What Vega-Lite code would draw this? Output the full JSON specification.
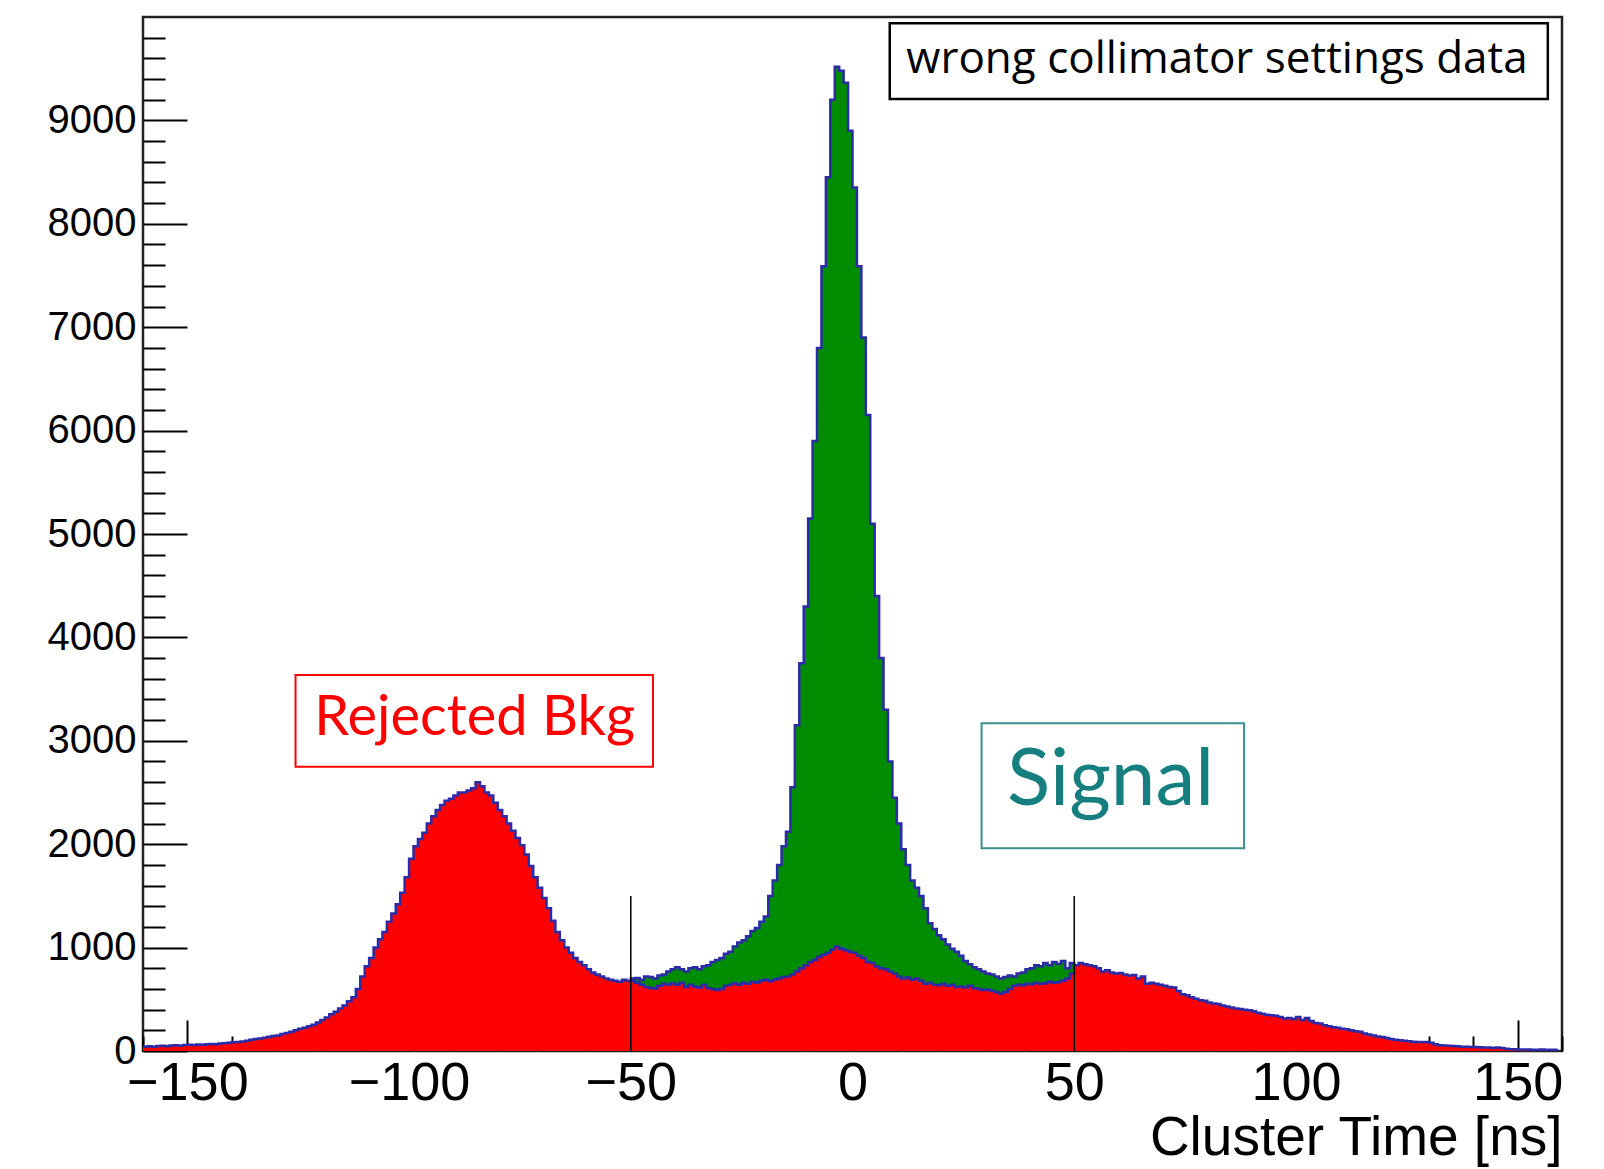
{
"$schema": "https://vega.github.io/schema/vega-lite/v6.json",
"width": 1419, "height": 1034,
"autosize": {"type": "none"},
"padding": {"left": 143, "top": 17, "right": 42, "bottom": 118},
"background": "white",
"config": {"view": {"stroke": "#222", "strokeWidth": 2.5}},
"datasets": {
"hist": [
{"t":-160,"total":40,"bkg":40},{"t":-159,"total":45,"bkg":45},{"t":-158,"total":42,"bkg":42},{"t":-157,"total":48,"bkg":48},{"t":-156,"total":50,"bkg":50},{"t":-155,"total":47,"bkg":47},{"t":-154,"total":52,"bkg":52},{"t":-153,"total":55,"bkg":55},{"t":-152,"total":50,"bkg":50},{"t":-151,"total":58,"bkg":58},
{"t":-150,"total":60,"bkg":60},{"t":-149,"total":57,"bkg":57},{"t":-148,"total":62,"bkg":62},{"t":-147,"total":60,"bkg":60},{"t":-146,"total":65,"bkg":65},{"t":-145,"total":68,"bkg":68},{"t":-144,"total":66,"bkg":66},{"t":-143,"total":72,"bkg":72},{"t":-142,"total":75,"bkg":75},{"t":-141,"total":80,"bkg":80},
{"t":-140,"total":84,"bkg":84},{"t":-139,"total":88,"bkg":88},{"t":-138,"total":92,"bkg":92},{"t":-137,"total":100,"bkg":100},{"t":-136,"total":108,"bkg":108},{"t":-135,"total":115,"bkg":115},{"t":-134,"total":122,"bkg":122},{"t":-133,"total":128,"bkg":128},{"t":-132,"total":138,"bkg":138},{"t":-131,"total":145,"bkg":145},
{"t":-130,"total":150,"bkg":150},{"t":-129,"total":165,"bkg":165},{"t":-128,"total":175,"bkg":175},{"t":-127,"total":185,"bkg":185},{"t":-126,"total":200,"bkg":200},{"t":-125,"total":215,"bkg":215},{"t":-124,"total":225,"bkg":225},{"t":-123,"total":240,"bkg":240},{"t":-122,"total":255,"bkg":255},{"t":-121,"total":275,"bkg":275},
{"t":-120,"total":300,"bkg":300},{"t":-119,"total":325,"bkg":325},{"t":-118,"total":355,"bkg":355},{"t":-117,"total":380,"bkg":380},{"t":-116,"total":410,"bkg":410},{"t":-115,"total":440,"bkg":440},{"t":-114,"total":480,"bkg":480},{"t":-113,"total":520,"bkg":520},{"t":-112,"total":600,"bkg":600},{"t":-111,"total":720,"bkg":720},
{"t":-110,"total":820,"bkg":820},{"t":-109,"total":900,"bkg":900},{"t":-108,"total":1000,"bkg":1000},{"t":-107,"total":1080,"bkg":1080},{"t":-106,"total":1150,"bkg":1150},{"t":-105,"total":1250,"bkg":1250},{"t":-104,"total":1330,"bkg":1330},{"t":-103,"total":1420,"bkg":1420},{"t":-102,"total":1530,"bkg":1530},{"t":-101,"total":1680,"bkg":1680},
{"t":-100,"total":1860,"bkg":1860},{"t":-99,"total":1980,"bkg":1980},{"t":-98,"total":2050,"bkg":2050},{"t":-97,"total":2110,"bkg":2110},{"t":-96,"total":2200,"bkg":2200},{"t":-95,"total":2270,"bkg":2270},{"t":-94,"total":2330,"bkg":2330},{"t":-93,"total":2380,"bkg":2380},{"t":-92,"total":2420,"bkg":2420},{"t":-91,"total":2440,"bkg":2440},
{"t":-90,"total":2470,"bkg":2470},{"t":-89,"total":2500,"bkg":2500},{"t":-88,"total":2500,"bkg":2500},{"t":-87,"total":2520,"bkg":2520},{"t":-86,"total":2540,"bkg":2540},{"t":-85,"total":2600,"bkg":2600},{"t":-84,"total":2560,"bkg":2560},{"t":-83,"total":2500,"bkg":2500},{"t":-82,"total":2470,"bkg":2470},{"t":-81,"total":2400,"bkg":2400},
{"t":-80,"total":2330,"bkg":2330},{"t":-79,"total":2270,"bkg":2270},{"t":-78,"total":2200,"bkg":2200},{"t":-77,"total":2130,"bkg":2130},{"t":-76,"total":2060,"bkg":2060},{"t":-75,"total":1990,"bkg":1990},{"t":-74,"total":1900,"bkg":1900},{"t":-73,"total":1790,"bkg":1790},{"t":-72,"total":1680,"bkg":1680},{"t":-71,"total":1580,"bkg":1580},
{"t":-70,"total":1480,"bkg":1480},{"t":-69,"total":1380,"bkg":1380},{"t":-68,"total":1260,"bkg":1260},{"t":-67,"total":1150,"bkg":1150},{"t":-66,"total":1070,"bkg":1070},{"t":-65,"total":1000,"bkg":1000},{"t":-64,"total":950,"bkg":950},{"t":-63,"total":900,"bkg":900},{"t":-62,"total":860,"bkg":860},{"t":-61,"total":830,"bkg":830},
{"t":-60,"total":790,"bkg":790},{"t":-59,"total":760,"bkg":760},{"t":-58,"total":740,"bkg":740},{"t":-57,"total":720,"bkg":720},{"t":-56,"total":700,"bkg":700},{"t":-55,"total":690,"bkg":690},{"t":-54,"total":680,"bkg":680},{"t":-53,"total":670,"bkg":670},{"t":-52,"total":690,"bkg":690},{"t":-51,"total":680,"bkg":680},
{"t":-50,"total":700,"bkg":680},{"t":-49,"total":705,"bkg":660},{"t":-48,"total":690,"bkg":640},{"t":-47,"total":720,"bkg":620},{"t":-46,"total":715,"bkg":610},{"t":-45,"total":700,"bkg":605},{"t":-44,"total":730,"bkg":630},{"t":-43,"total":740,"bkg":650},{"t":-42,"total":770,"bkg":640},{"t":-41,"total":790,"bkg":655},
{"t":-40,"total":810,"bkg":640},{"t":-39,"total":790,"bkg":660},{"t":-38,"total":770,"bkg":620},{"t":-37,"total":800,"bkg":640},{"t":-36,"total":810,"bkg":625},{"t":-35,"total":790,"bkg":615},{"t":-34,"total":820,"bkg":640},{"t":-33,"total":830,"bkg":610},{"t":-32,"total":860,"bkg":600},{"t":-31,"total":880,"bkg":590},
{"t":-30,"total":900,"bkg":600},{"t":-29,"total":940,"bkg":630},{"t":-28,"total":960,"bkg":640},{"t":-27,"total":1010,"bkg":655},{"t":-26,"total":1050,"bkg":640},{"t":-25,"total":1070,"bkg":660},{"t":-24,"total":1110,"bkg":650},{"t":-23,"total":1160,"bkg":670},{"t":-22,"total":1190,"bkg":660},{"t":-21,"total":1250,"bkg":680},
{"t":-20,"total":1300,"bkg":690},{"t":-19,"total":1500,"bkg":675},{"t":-18,"total":1650,"bkg":690},{"t":-17,"total":1800,"bkg":700},{"t":-16,"total":1980,"bkg":715},{"t":-15,"total":2120,"bkg":720},{"t":-14,"total":2550,"bkg":740},{"t":-13,"total":3150,"bkg":770},{"t":-12,"total":3750,"bkg":800},{"t":-11,"total":4300,"bkg":830},
{"t":-10,"total":5150,"bkg":860},{"t":-9,"total":5900,"bkg":880},{"t":-8,"total":6800,"bkg":910},{"t":-7,"total":7590,"bkg":930},{"t":-6,"total":8450,"bkg":950},{"t":-5,"total":9200,"bkg":980},{"t":-4,"total":9520,"bkg":1010},{"t":-3,"total":9480,"bkg":990},{"t":-2,"total":9365,"bkg":975},{"t":-1,"total":8900,"bkg":960},
{"t":0,"total":8350,"bkg":950},{"t":1,"total":7590,"bkg":920},{"t":2,"total":6900,"bkg":900},{"t":3,"total":6150,"bkg":860},{"t":4,"total":5100,"bkg":850},{"t":5,"total":4400,"bkg":820},{"t":6,"total":3800,"bkg":800},{"t":7,"total":3300,"bkg":790},{"t":8,"total":2800,"bkg":770},{"t":9,"total":2450,"bkg":750},
{"t":10,"total":2200,"bkg":720},{"t":11,"total":1950,"bkg":700},{"t":12,"total":1800,"bkg":710},{"t":13,"total":1650,"bkg":690},{"t":14,"total":1580,"bkg":700},{"t":15,"total":1500,"bkg":680},{"t":16,"total":1380,"bkg":650},{"t":17,"total":1235,"bkg":660},{"t":18,"total":1180,"bkg":640},{"t":19,"total":1120,"bkg":635},
{"t":20,"total":1080,"bkg":650},{"t":21,"total":1030,"bkg":630},{"t":22,"total":990,"bkg":640},{"t":23,"total":960,"bkg":620},{"t":24,"total":920,"bkg":625},{"t":25,"total":870,"bkg":615},{"t":26,"total":840,"bkg":630},{"t":27,"total":810,"bkg":610},{"t":28,"total":790,"bkg":600},{"t":29,"total":770,"bkg":590},
{"t":30,"total":750,"bkg":595},{"t":31,"total":740,"bkg":580},{"t":32,"total":720,"bkg":570},{"t":33,"total":700,"bkg":555},{"t":34,"total":715,"bkg":570},{"t":35,"total":730,"bkg":600},{"t":36,"total":720,"bkg":630},{"t":37,"total":750,"bkg":640},{"t":38,"total":760,"bkg":635},{"t":39,"total":790,"bkg":650},
{"t":40,"total":800,"bkg":645},{"t":41,"total":830,"bkg":660},{"t":42,"total":820,"bkg":650},{"t":43,"total":850,"bkg":655},{"t":44,"total":830,"bkg":670},{"t":45,"total":860,"bkg":660},{"t":46,"total":845,"bkg":665},{"t":47,"total":870,"bkg":680},{"t":48,"total":800,"bkg":700},{"t":49,"total":850,"bkg":750},
{"t":50,"total":830,"bkg":830},{"t":51,"total":850,"bkg":850},{"t":52,"total":840,"bkg":840},{"t":53,"total":830,"bkg":830},{"t":54,"total":820,"bkg":820},{"t":55,"total":800,"bkg":800},{"t":56,"total":770,"bkg":770},{"t":57,"total":780,"bkg":780},{"t":58,"total":760,"bkg":760},{"t":59,"total":750,"bkg":750},
{"t":60,"total":755,"bkg":755},{"t":61,"total":740,"bkg":740},{"t":62,"total":730,"bkg":730},{"t":63,"total":735,"bkg":735},{"t":64,"total":700,"bkg":700},{"t":65,"total":720,"bkg":720},{"t":66,"total":650,"bkg":650},{"t":67,"total":660,"bkg":660},{"t":68,"total":650,"bkg":650},{"t":69,"total":640,"bkg":640},
{"t":70,"total":630,"bkg":630},{"t":71,"total":620,"bkg":620},{"t":72,"total":615,"bkg":615},{"t":73,"total":580,"bkg":580},{"t":74,"total":550,"bkg":550},{"t":75,"total":540,"bkg":540},{"t":76,"total":520,"bkg":520},{"t":77,"total":505,"bkg":505},{"t":78,"total":490,"bkg":490},{"t":79,"total":485,"bkg":485},
{"t":80,"total":470,"bkg":470},{"t":81,"total":460,"bkg":460},{"t":82,"total":455,"bkg":455},{"t":83,"total":440,"bkg":440},{"t":84,"total":430,"bkg":430},{"t":85,"total":420,"bkg":420},{"t":86,"total":410,"bkg":410},{"t":87,"total":405,"bkg":405},{"t":88,"total":400,"bkg":400},{"t":89,"total":395,"bkg":395},
{"t":90,"total":385,"bkg":385},{"t":91,"total":370,"bkg":370},{"t":92,"total":360,"bkg":360},{"t":93,"total":350,"bkg":350},{"t":94,"total":345,"bkg":345},{"t":95,"total":340,"bkg":340},{"t":96,"total":330,"bkg":330},{"t":97,"total":315,"bkg":315},{"t":98,"total":320,"bkg":320},{"t":99,"total":310,"bkg":310},
{"t":100,"total":330,"bkg":330},{"t":101,"total":300,"bkg":300},{"t":102,"total":320,"bkg":320},{"t":103,"total":290,"bkg":290},{"t":104,"total":270,"bkg":270},{"t":105,"total":265,"bkg":265},{"t":106,"total":250,"bkg":250},{"t":107,"total":240,"bkg":240},{"t":108,"total":230,"bkg":230},{"t":109,"total":225,"bkg":225},
{"t":110,"total":215,"bkg":215},{"t":111,"total":210,"bkg":210},{"t":112,"total":200,"bkg":200},{"t":113,"total":190,"bkg":190},{"t":114,"total":185,"bkg":185},{"t":115,"total":170,"bkg":170},{"t":116,"total":160,"bkg":160},{"t":117,"total":150,"bkg":150},{"t":118,"total":140,"bkg":140},{"t":119,"total":135,"bkg":135},
{"t":120,"total":125,"bkg":125},{"t":121,"total":115,"bkg":115},{"t":122,"total":110,"bkg":110},{"t":123,"total":105,"bkg":105},{"t":124,"total":100,"bkg":100},{"t":125,"total":95,"bkg":95},{"t":126,"total":90,"bkg":90},{"t":127,"total":88,"bkg":88},{"t":128,"total":86,"bkg":86},{"t":129,"total":87,"bkg":87},
{"t":130,"total":80,"bkg":80},{"t":131,"total":65,"bkg":65},{"t":132,"total":55,"bkg":55},{"t":133,"total":52,"bkg":52},{"t":134,"total":50,"bkg":50},{"t":135,"total":48,"bkg":48},{"t":136,"total":45,"bkg":45},{"t":137,"total":42,"bkg":42},{"t":138,"total":40,"bkg":40},{"t":139,"total":38,"bkg":38},
{"t":140,"total":38,"bkg":38},{"t":141,"total":36,"bkg":36},{"t":142,"total":35,"bkg":35},{"t":143,"total":33,"bkg":33},{"t":144,"total":30,"bkg":30},{"t":145,"total":35,"bkg":35},{"t":146,"total":28,"bkg":28},{"t":147,"total":22,"bkg":22},{"t":148,"total":18,"bkg":18},{"t":149,"total":16,"bkg":16},
{"t":150,"total":15,"bkg":15},{"t":151,"total":14,"bkg":14},{"t":152,"total":15,"bkg":15},{"t":153,"total":13,"bkg":13},{"t":154,"total":12,"bkg":12},{"t":155,"total":14,"bkg":14},{"t":156,"total":12,"bkg":12},{"t":157,"total":13,"bkg":13},{"t":158,"total":11,"bkg":11},{"t":159,"total":12,"bkg":12}
],
"cuts": [{"t": -50}, {"t": 50}]
},
"resolve": {"axis": {"x": "independent", "y": "independent"}},
"layer": [
{
"data": {"name": "hist"},
"mark": {"type": "area", "interpolate": "step-after", "color": "#008c00"},
"encoding": {
"x": {"field": "t", "type": "quantitative", "scale": {"domain": [-160, 160], "nice": false, "zero": false},
 "axis": {"orient": "bottom", "values": [-150, -100, -50, 0, 50, 100, 150], "tickSize": -31, "tickWidth": 2, "tickColor": "#000",
  "domain": false, "grid": false, "labelFont": "Liberation Sans", "labelFontSize": 54, "labelColor": "#000", "labelPadding": 36,
  "labelFlush": false, "labelOverlap": false,
  "title": "Cluster Time [ns]", "titleFont": "Liberation Sans", "titleFontSize": 55, "titleFontWeight": "normal", "titleColor": "#000",
  "titleAnchor": "end", "titleAlign": "right", "titlePadding": 1}},
"y": {"field": "total", "type": "quantitative", "scale": {"domain": [0, 10000], "nice": false},
 "axis": {"orient": "left", "values": [0, 1000, 2000, 3000, 4000, 5000, 6000, 7000, 8000, 9000], "format": "d", "tickSize": -44, "tickWidth": 2, "tickColor": "#000",
  "domain": false, "grid": false, "labelFont": "Liberation Sans", "labelFontSize": 40, "labelColor": "#000", "labelPadding": 51,
  "labelFlush": false, "labelOverlap": false, "title": null}}
}
},
{
"data": {"name": "hist"},
"mark": {"type": "area", "interpolate": "step-after", "color": "#ff0000"},
"encoding": {
"x": {"field": "t", "type": "quantitative", "scale": {"domain": [-160, 160], "nice": false, "zero": false},
 "axis": {"orient": "bottom", "values": [-160, -140, -130, -120, -110, -90, -80, -70, -60, -40, -30, -20, -10, 10, 20, 30, 40, 60, 70, 80, 90, 110, 120, 130, 140, 160],
  "tickSize": -15, "tickWidth": 2, "tickColor": "#000", "domain": false, "grid": false, "labels": false, "title": null}},
"y": {"field": "bkg", "type": "quantitative", "scale": {"domain": [0, 10000], "nice": false},
 "axis": {"orient": "left", "values": [200, 400, 600, 800, 1200, 1400, 1600, 1800, 2200, 2400, 2600, 2800, 3200, 3400, 3600, 3800, 4200, 4400, 4600, 4800, 5200, 5400, 5600, 5800, 6200, 6400, 6600, 6800, 7200, 7400, 7600, 7800, 8200, 8400, 8600, 8800, 9200, 9400, 9600, 9800],
  "tickSize": -22, "tickWidth": 2, "tickColor": "#000", "domain": false, "grid": false, "labels": false, "title": null}}
}
},
{
"data": {"name": "hist"},
"mark": {"type": "line", "interpolate": "step-after", "color": "#2b2ba8", "strokeWidth": 2.5},
"encoding": {
"x": {"field": "t", "type": "quantitative", "axis": null},
"y": {"field": "total", "type": "quantitative", "axis": null}
}
},
{
"data": {"name": "hist"},
"transform": [{"filter": "datum.t >= -50 && datum.t <= 50"}],
"mark": {"type": "line", "interpolate": "step-after", "color": "#2b2ba8", "strokeWidth": 2.5},
"encoding": {
"x": {"field": "t", "type": "quantitative", "axis": null},
"y": {"field": "bkg", "type": "quantitative", "axis": null}
}
},
{
"data": {"name": "cuts"},
"mark": {"type": "rule", "color": "#000", "strokeWidth": 1.5},
"encoding": {
"x": {"field": "t", "type": "quantitative", "axis": null},
"y": {"datum": 0, "type": "quantitative", "axis": null},
"y2": {"datum": 1500}
}
},
{
"data": {"values": [{}]},
"mark": {"type": "rect", "fill": "white", "stroke": "#000", "strokeWidth": 2.5},
"encoding": {
"x": {"datum": 8.4, "type": "quantitative", "axis": null}, "x2": {"datum": 156.8},
"y": {"datum": 9207, "type": "quantitative", "axis": null}, "y2": {"datum": 9939}
}
},
{
"data": {"values": [{}]},
"mark": {"type": "rect", "fill": "white", "stroke": "#ff0000", "strokeWidth": 2},
"encoding": {
"x": {"datum": -125.6, "type": "quantitative", "axis": null}, "x2": {"datum": -45.0},
"y": {"datum": 2750, "type": "quantitative", "axis": null}, "y2": {"datum": 3636}
}
},
{
"data": {"values": [{}]},
"mark": {"type": "rect", "fill": "white", "stroke": "#3a9090", "strokeWidth": 2},
"encoding": {
"x": {"datum": 29.1, "type": "quantitative", "axis": null}, "x2": {"datum": 88.3},
"y": {"datum": 1960, "type": "quantitative", "axis": null}, "y2": {"datum": 3169}
}
},
{
"data": {"values": [{}]},
"mark": {"type": "text", "text": "wrong collimator settings data", "font": "Open Sans", "fontSize": 44, "color": "#000", "align": "center", "baseline": "alphabetic"},
"encoding": {
"x": {"datum": 82.2, "type": "quantitative", "axis": null},
"y": {"datum": 9458, "type": "quantitative", "axis": null}
}
},
{
"data": {"values": [{}]},
"mark": {"type": "text", "text": "Rejected Bkg", "font": "Lato", "fontSize": 56, "color": "#ff0000", "align": "center", "baseline": "alphabetic"},
"encoding": {
"x": {"datum": -85.2, "type": "quantitative", "axis": null},
"y": {"datum": 3056, "type": "quantitative", "axis": null}
}
},
{
"data": {"values": [{}]},
"mark": {"type": "text", "text": "Signal", "font": "Lato", "fontSize": 80, "color": "#157f7f", "align": "center", "baseline": "alphabetic"},
"encoding": {
"x": {"datum": 58.2, "type": "quantitative", "axis": null},
"y": {"datum": 2379, "type": "quantitative", "axis": null}
}
}
]
}
